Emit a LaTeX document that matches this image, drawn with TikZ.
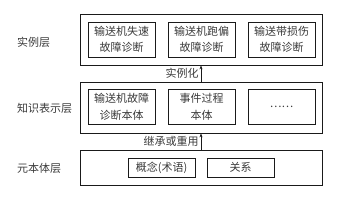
\documentclass[tikz,border=0pt]{standalone}
\usepackage{fontspec}
\newfontfamily\cjk{Noto Sans CJK SC}
\usepackage{xcolor}
\definecolor{cLine}{HTML}{1A1A1A}
\definecolor{cText}{HTML}{3A3A3A}
\usepackage{tikz}
\usetikzlibrary{positioning,arrows.meta}
\tikzset{
  layer-box/.style={draw=cLine,line width=0.8pt,minimum width=242pt,
    inner sep=0pt},
  item-box/.style={draw=cLine,line width=0.8pt,minimum width=67pt,
    minimum height=35pt,inner sep=0pt,align=center,text=cText,
    font=\cjk\fontsize{11}{16.5}\selectfont},
  layer-name/.style={anchor=west,text=cText,inner sep=0pt,
    font=\cjk\fontsize{11}{13}\selectfont},
  arrow/.style={-{Stealth[length=4pt,width=3pt]},line width=0.7pt,draw=cLine},
}

\begin{document}
\begin{tikzpicture}[x=1pt,y=-1pt]
  \useasboundingbox (0,0) rectangle (350,200);
  % 三个层
  \node[layer-box,minimum height=51pt] at (201,39.5) (inst) {};
  \node[layer-box,minimum height=51pt] at (201,107.5) (know) {};
  \node[layer-box,minimum height=35pt] at (201,167.5) (meta) {};
  \node[layer-name] at (17,42) (instname) {实例层};
  \node[layer-name] at (17,108) (knowname) {知识表示层};
  \node[layer-name] at (17,168) (metaname) {元本体层};
  % 实例层
  \foreach \name/\x/\txt in {i1/121.5/输送机失速\\故障诊断,
      i2/201.5/输送机跑偏\\故障诊断, i3/281.5/输送带损伤\\故障诊断} {
    \node[item-box] at (\x,39.5) (\name) {\txt};
  }
  % 知识表示层
  \foreach \name/\x/\txt in {k1/121.5/输送机故障\\诊断本体,
      k2/201.5/事件过程\\本体, k3/281.5/……} {
    \node[item-box] at (\x,107) (\name) {\txt};
  }
  % 元本体层
  \node[item-box,minimum height=19pt] at (161.5,167.5) (m1) {概念(术语)};
  \node[item-box,minimum height=19pt] at (240.5,167.5) (m2) {关系};
  \draw[arrow] (know.north) -- node[left,text=cText,inner sep=2pt,
    font=\cjk\fontsize{11}{13}\selectfont]{实例化} (inst.south);
  \draw[arrow] (meta.north) -- node[left,text=cText,inner sep=2pt,
    font=\cjk\fontsize{11}{13}\selectfont]{继承或重用} (know.south);
\end{tikzpicture}
\end{document}
